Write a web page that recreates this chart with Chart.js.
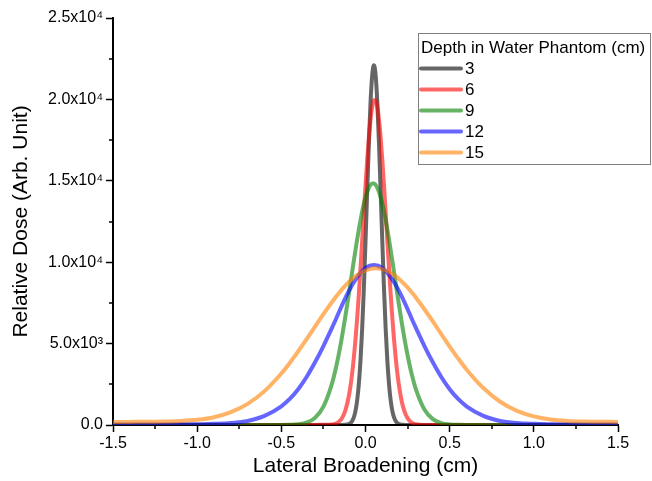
<!DOCTYPE html>
<html>
<head>
<meta charset="utf-8">
<script src="https://cdn.jsdelivr.net/npm/chart.js@4.4.1/dist/chart.umd.min.js"></script>
<style>
  html, body { margin: 0; padding: 0; background: #fff; }
  #wrap { width: 652px; height: 481px; }
</style>
</head>
<body>
<div id="wrap"><canvas id="doseChart" width="652" height="481"></canvas></div>
<script>
// lateral position (cm)
const xs = [-1.5, -1.4, -1.3, -1.2, -1.1, -1.0, -0.9, -0.8, -0.7, -0.6,
    -0.5, -0.45, -0.4, -0.35, -0.3, -0.25,
    -0.2, -0.18, -0.16, -0.14, -0.12,
    -0.1, -0.09, -0.08, -0.07, -0.06, -0.05, -0.04, -0.03, -0.02, -0.01,
    0, 0.01, 0.02, 0.03, 0.04, 0.05, 0.06, 0.07, 0.08, 0.09,
    0.1, 0.11, 0.12, 0.13, 0.14, 0.15, 0.16, 0.17, 0.18, 0.19, 0.2,
    0.22, 0.24, 0.26, 0.28, 0.3,
    0.35, 0.4, 0.45, 0.5, 0.55, 0.6,
    0.7, 0.8, 0.9, 1.0, 1.1, 1.2, 1.3, 1.4, 1.5];

// relative dose for each depth (3, 6, 9, 12, 15 cm)
const dose3 = [0, 0, 0, 0, 0, 0, 0, 0, 0, 0,
    0, 0, 0, 0, 0, 0,
    0, 0, 0, 0, 10,
    50, 110, 230, 450, 840, 1480, 2470, 3920, 5870, 8350,
    11240, 14340, 17330, 19840, 21510, 22100, 21510, 19840, 17330, 14340,
    11240, 8350, 5870, 3920, 2470, 1480, 840, 450, 230, 110, 50,
    10, 0, 0, 0, 0,
    0, 0, 0, 0, 0, 0,
    0, 0, 0, 0, 0, 0, 0, 0, 0];
const dose6 = [0, 0, 0, 0, 0, 0, 0, 0, 0, 0,
    0, 0, 0, 0, 0, 15,
    30, 70, 180, 410, 880,
    1720, 2340, 3110, 4060, 5190, 6490, 7960, 9570, 11270, 13000,
    14690, 16270, 17650, 18760, 19550, 19950, 19950, 19550, 18760, 17650,
    16270, 14690, 13000, 11270, 9570, 7960, 6490, 5190, 4060, 3110, 2340,
    1240, 610, 280, 110, 45,
    5, 0, 0, 0, 0, 0,
    0, 0, 0, 0, 0, 0, 0, 0, 0];
const dose9 = [0, 0, 0, 0, 0, 0, 0, 0, 0, 0,
    0, 10, 40, 150, 440, 1130,
    2510, 3320, 4280, 5400, 6640,
    7970, 8660, 9350, 10040, 10720, 11370, 11990, 12570, 13110, 13580,
    13990, 14320, 14580, 14750, 14840, 14840, 14750, 14580, 14320, 13990,
    13580, 13110, 12570, 11990, 11370, 10720, 10040, 9350, 8660, 7970, 7300,
    6000, 4820, 3780, 2900, 2170,
    950, 360, 120, 35, 10, 0,
    0, 0, 0, 0, 0, 0, 0, 0, 0];
const dose12 = [30, 30, 30, 35, 40, 50, 70, 120, 250, 560,
    1150, 1600, 2200, 2950, 3850, 4850,
    5950, 6400, 6880, 7350, 7800,
    8210, 8400, 8590, 8760, 8920, 9070, 9210, 9340, 9450, 9550,
    9640, 9710, 9760, 9800, 9820, 9830, 9820, 9800, 9760, 9710,
    9640, 9550, 9450, 9340, 9210, 9070, 8920, 8760, 8590, 8400, 8210,
    7800, 7350, 6880, 6400, 5950,
    4850, 3850, 2950, 2200, 1600, 1150,
    560, 250, 120, 70, 50, 40, 35, 30, 30];
const dose15 = [180, 190, 200, 215, 250, 320, 480, 790, 1300, 2080,
    3160, 3810, 4520, 5270, 6040, 6810,
    7540, 7820, 8080, 8330, 8560,
    8770, 8870, 8960, 9050, 9130, 9210, 9280, 9340, 9400, 9450,
    9490, 9530, 9560, 9590, 9610, 9620, 9630, 9620, 9610, 9590,
    9560, 9530, 9490, 9450, 9400, 9340, 9280, 9210, 9130, 9050, 8960,
    8770, 8560, 8330, 8080, 7820,
    7110, 6360, 5580, 4820, 4090, 3410,
    2270, 1430, 870, 530, 340, 250, 210, 200, 190];

const depthLabels = ["3", "6", "9", "12", "15"];
const xTicks = [-1.5, -1.0, -0.5, 0.0, 0.5, 1.0, 1.5];
const xMinor = [-1.25, -0.75, -0.25, 0.25, 0.75, 1.25];
const yTickLabels = ["0.0", "5.0x10\u00b3", "1.0x10\u2074", "1.5x10\u2074", "2.0x10\u2074", "2.5x10\u2074"];
const yMinor = [2500, 7500, 12500, 17500, 22500];

const FONT = "'Liberation Sans', Arial, sans-serif";
const colors = ["rgba(0,0,0,0.6)", "rgba(255,0,0,0.6)", "rgba(0,128,0,0.6)", "rgba(0,0,255,0.6)", "rgba(255,128,0,0.6)"];
const series = [dose3, dose6, dose9, dose12, dose15];

// minor ticks + boxed legend, drawn after the chart
const extras = {
    id: "extras",
    afterDraw(chart) {
        const ctx = chart.ctx;
        const xs_ = chart.scales.x, ys_ = chart.scales.y;
        const area = chart.chartArea;
        ctx.save();
        ctx.strokeStyle = "#000";
        ctx.lineWidth = 1.5;
        ctx.beginPath();
        xMinor.forEach(v => {
            const px = Math.round(xs_.getPixelForValue(v));
            ctx.moveTo(px, area.bottom);
            ctx.lineTo(px, area.bottom + 4);
        });
        yMinor.forEach(v => {
            const py = Math.round(ys_.getPixelForValue(v));
            ctx.moveTo(area.left, py);
            ctx.lineTo(area.left - 4, py);
        });
        ctx.stroke();

        // legend box
        const bx = 418.5, by = 33.5, bw = 232, bh = 131;
        ctx.fillStyle = "#fff";
        ctx.fillRect(bx, by, bw, bh);
        ctx.strokeStyle = "#7f7f7f";
        ctx.lineWidth = 1;
        ctx.strokeRect(bx, by, bw, bh);
        ctx.fillStyle = "#000";
        ctx.font = "17px " + FONT;
        ctx.textBaseline = "middle";
        ctx.textAlign = "left";
        ctx.fillText("Depth in Water Phantom (cm)", 421, 48);
        chart.data.datasets.forEach((ds, i) => {
            const y = 68.5 + i * 21;
            ctx.strokeStyle = ds.borderColor;
            ctx.lineWidth = 4;
            ctx.lineCap = "round";
            ctx.beginPath();
            ctx.moveTo(421, y);
            ctx.lineTo(461, y);
            ctx.stroke();
            ctx.fillStyle = "#000";
            ctx.fillText(ds.label, 465, y + 1);
        });
        ctx.restore();
    }
};

new Chart(document.getElementById("doseChart"), {
    type: "line",
    data: {
        datasets: series.map((vals, i) => ({
            label: depthLabels[i],
            data: xs.map((x, j) => ({ x: x, y: vals[j] })),
            borderColor: colors[i],
            backgroundColor: colors[i],
            borderWidth: 4,
            pointRadius: 0,
            cubicInterpolationMode: "monotone",
            order: 5 - i
        }))
    },
    options: {
        responsive: false,
        animation: false,
        devicePixelRatio: 1,
        layout: { padding: { top: 18, right: 34, left: 0, bottom: 0 } },
        plugins: { legend: { display: false }, tooltip: { enabled: false } },
        scales: {
            x: {
                type: "linear",
                min: -1.5,
                max: 1.5,
                afterFit: s => { s.height = 56; },
                afterBuildTicks: s => { s.ticks = xTicks.map(v => ({ value: v })); },
                ticks: {
                    color: "#000",
                    font: { family: FONT, size: 16 },
                    padding: 2,
                    callback: v => v.toFixed(1)
                },
                grid: { drawOnChartArea: false, drawTicks: true, tickLength: 7, tickWidth: 1.5, tickColor: "#000" },
                border: { display: true, color: "#000", width: 2 },
                title: {
                    display: true,
                    text: "Lateral Broadening (cm)",
                    color: "#000",
                    font: { family: FONT, size: 21 },
                    padding: { top: 0, bottom: 2 }
                }
            },
            y: {
                min: 0,
                max: 25000,
                afterFit: s => { s.width = 113; },
                ticks: {
                    stepSize: 5000,
                    color: "#000",
                    font: { family: FONT, size: 16 },
                    padding: 3,
                    callback: (v, i) => yTickLabels[i]
                },
                grid: { drawOnChartArea: false, drawTicks: true, tickLength: 7, tickWidth: 1.5, tickColor: "#000" },
                border: { display: true, color: "#000", width: 2 },
                title: {
                    display: true,
                    text: "Relative Dose (Arb. Unit)",
                    color: "#000",
                    font: { family: FONT, size: 21 },
                    padding: { top: 9, bottom: 0 }
                }
            }
        }
    },
    plugins: [extras]
});
</script>
</body>
</html>
